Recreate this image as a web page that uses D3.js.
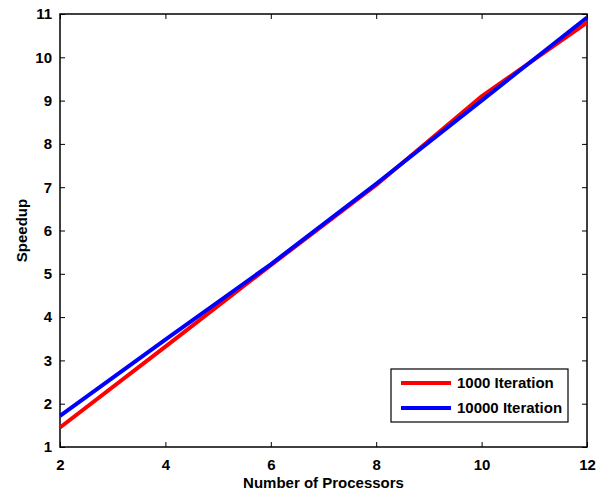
<!DOCTYPE html>
<html>
<head>
<meta charset="utf-8">
<script src="https://cdn.jsdelivr.net/npm/d3@7"></script>
<style>
  body { margin: 0; background: #fff; }
  text { font-family: "Liberation Sans", Arial, sans-serif; font-weight: bold; }
</style>
</head>
<body>
<div id="chart"></div>
<script>
// data
const processors = [2, 4, 6, 8, 10, 12];
const speedup1000 = [1.45, 3.32, 5.2, 7.05, 9.1, 10.8];
const speedup10000 = [1.72, 3.48, 5.22, 7.08, 9.0, 10.92];
const seriesNames = ['1000 Iteration', '10000 Iteration'];
const seriesColors = ['#ff0000', '#0000ff'];
const xTicks = [2, 4, 6, 8, 10, 12];
const yTicks = [1, 2, 3, 4, 5, 6, 7, 8, 9, 10, 11];

// base positioning
var margin = { top: 14, bottom: 46, left: 60, right: 22 },
  width = 609 - margin.left - margin.right,
  height = 493 - margin.top - margin.bottom;

const svg = d3.select('#chart')
  .append('svg')
  .attr('width', 609)
  .attr('height', 493)
  .append('g')
  .attr('transform', 'translate(' + margin.left + ',' + margin.top + ')');

const x = d3.scaleLinear().domain([2, 12]).range([0, width]);
const y = d3.scaleLinear().domain([1, 11]).range([height, 0]);

// axes (matlab style: ticks inside, on all sides)
const styleAxis = g => {
  g.select('.domain').remove();
  g.selectAll('.tick line').attr('stroke', '#000').attr('stroke-width', 1);
  g.selectAll('.tick text').attr('fill', '#000').style('font-size', '15px');
};

svg.append('g')
  .attr('transform', 'translate(0,' + height + ')')
  .call(d3.axisBottom(x).tickValues(xTicks).tickSizeInner(-5).tickSizeOuter(0).tickPadding(12))
  .call(styleAxis);
svg.append('g')
  .call(d3.axisTop(x).tickValues(xTicks).tickSizeInner(-5).tickSizeOuter(0).tickFormat(''))
  .call(styleAxis);
svg.append('g')
  .call(d3.axisLeft(y).tickValues(yTicks).tickSizeInner(-5).tickSizeOuter(0).tickPadding(8))
  .call(styleAxis);
svg.append('g')
  .attr('transform', 'translate(' + width + ',0)')
  .call(d3.axisRight(y).tickValues(yTicks).tickSizeInner(-5).tickSizeOuter(0).tickFormat(''))
  .call(styleAxis);

svg.append('rect')
  .attr('width', width)
  .attr('height', height)
  .attr('fill', 'none')
  .attr('stroke', '#000')
  .attr('stroke-width', 1.5);

// lines
const line = d3.line()
  .x((d, i) => x(processors[i]))
  .y(d => y(d));
[speedup1000, speedup10000].forEach((s, i) => {
  svg.append('path')
    .attr('fill', 'none')
    .attr('stroke', seriesColors[i])
    .attr('stroke-width', 4)
    .attr('d', line(s));
});

// axis labels
svg.append('text')
  .attr('x', width / 2)
  .attr('y', height + 41)
  .attr('text-anchor', 'middle')
  .style('font-size', '15px')
  .text('Number of Processors');
svg.append('text')
  .attr('transform', 'translate(' + (-33) + ',' + (height / 2) + ') rotate(-90)')
  .attr('text-anchor', 'middle')
  .style('font-size', '15px')
  .text('Speedup');

// legend
const legend = svg.append('g')
  .attr('transform', 'translate(' + (391 - margin.left) + ',' + (369 - margin.top) + ')');
legend.append('rect')
  .attr('width', 177)
  .attr('height', 53)
  .attr('fill', '#fff')
  .attr('stroke', '#000')
  .attr('stroke-width', 1.2);
seriesNames.forEach((name, i) => {
  legend.append('line')
    .attr('x1', 10).attr('x2', 60)
    .attr('y1', 14 + i * 25).attr('y2', 14 + i * 25)
    .attr('stroke', seriesColors[i])
    .attr('stroke-width', 4);
  legend.append('text')
    .attr('x', 66)
    .attr('y', 19 + i * 25)
    .style('font-size', '15px')
    .text(name);
});
</script>
</body>
</html>
